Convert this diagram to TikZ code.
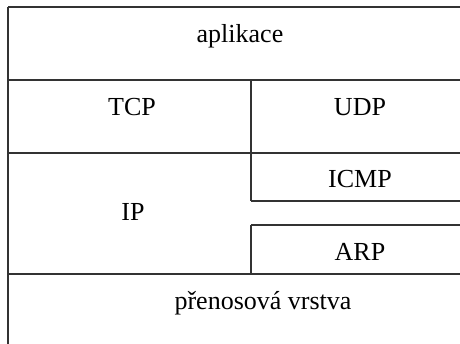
\documentclass[tikz,border=0pt]{standalone}
\usepackage{fontspec}
\setmainfont{Liberation Serif}
\tikzset{vrstva/.style={
    anchor=base,
    inner sep=0pt,
    font=\fontsize{26}{31}\selectfont},
  hrana/.style={
    draw=black!80,
    line width=1.1pt}}

\begin{document}
\begin{tikzpicture}[x=1pt,y=-1pt]
	\useasboundingbox (0,0) rectangle (460,344);
\coordinate (L) at (8,7);
\coordinate (R) at (460,7);
\coordinate (M) at (251,80);
\coordinate (D) at (8,344);

% vodorovne hranice vrstev
\path[hrana] (L) -- (R);
\path[hrana] (8,80) -- (460,80);
\path[hrana] (8,153) -- (460,153);
\path[hrana] (251,201) -- (460,201);
\path[hrana] (251,225) -- (460,225);
\path[hrana] (8,274) -- (460,274);
% svisle hranice
\path[hrana] (L) -- (D);
\path[hrana] (M) -- (251,201);
\path[hrana] (251,225) -- (251,274);

	\node[vrstva] (aplikace) at (240,43) {aplikace};
	\node[vrstva] (tcp) at (132,116) {TCP};
	\node[vrstva] (udp) at (360,116) {UDP};
	\node[vrstva] (icmp) at (360,188) {ICMP};
	\node[vrstva] (ip) at (133,221) {IP};
	\node[vrstva] (arp) at (360,261) {ARP};
	\node[vrstva] (prenos) at (263,309) {přenosová vrstva};
  
\end{tikzpicture}
\end{document}
